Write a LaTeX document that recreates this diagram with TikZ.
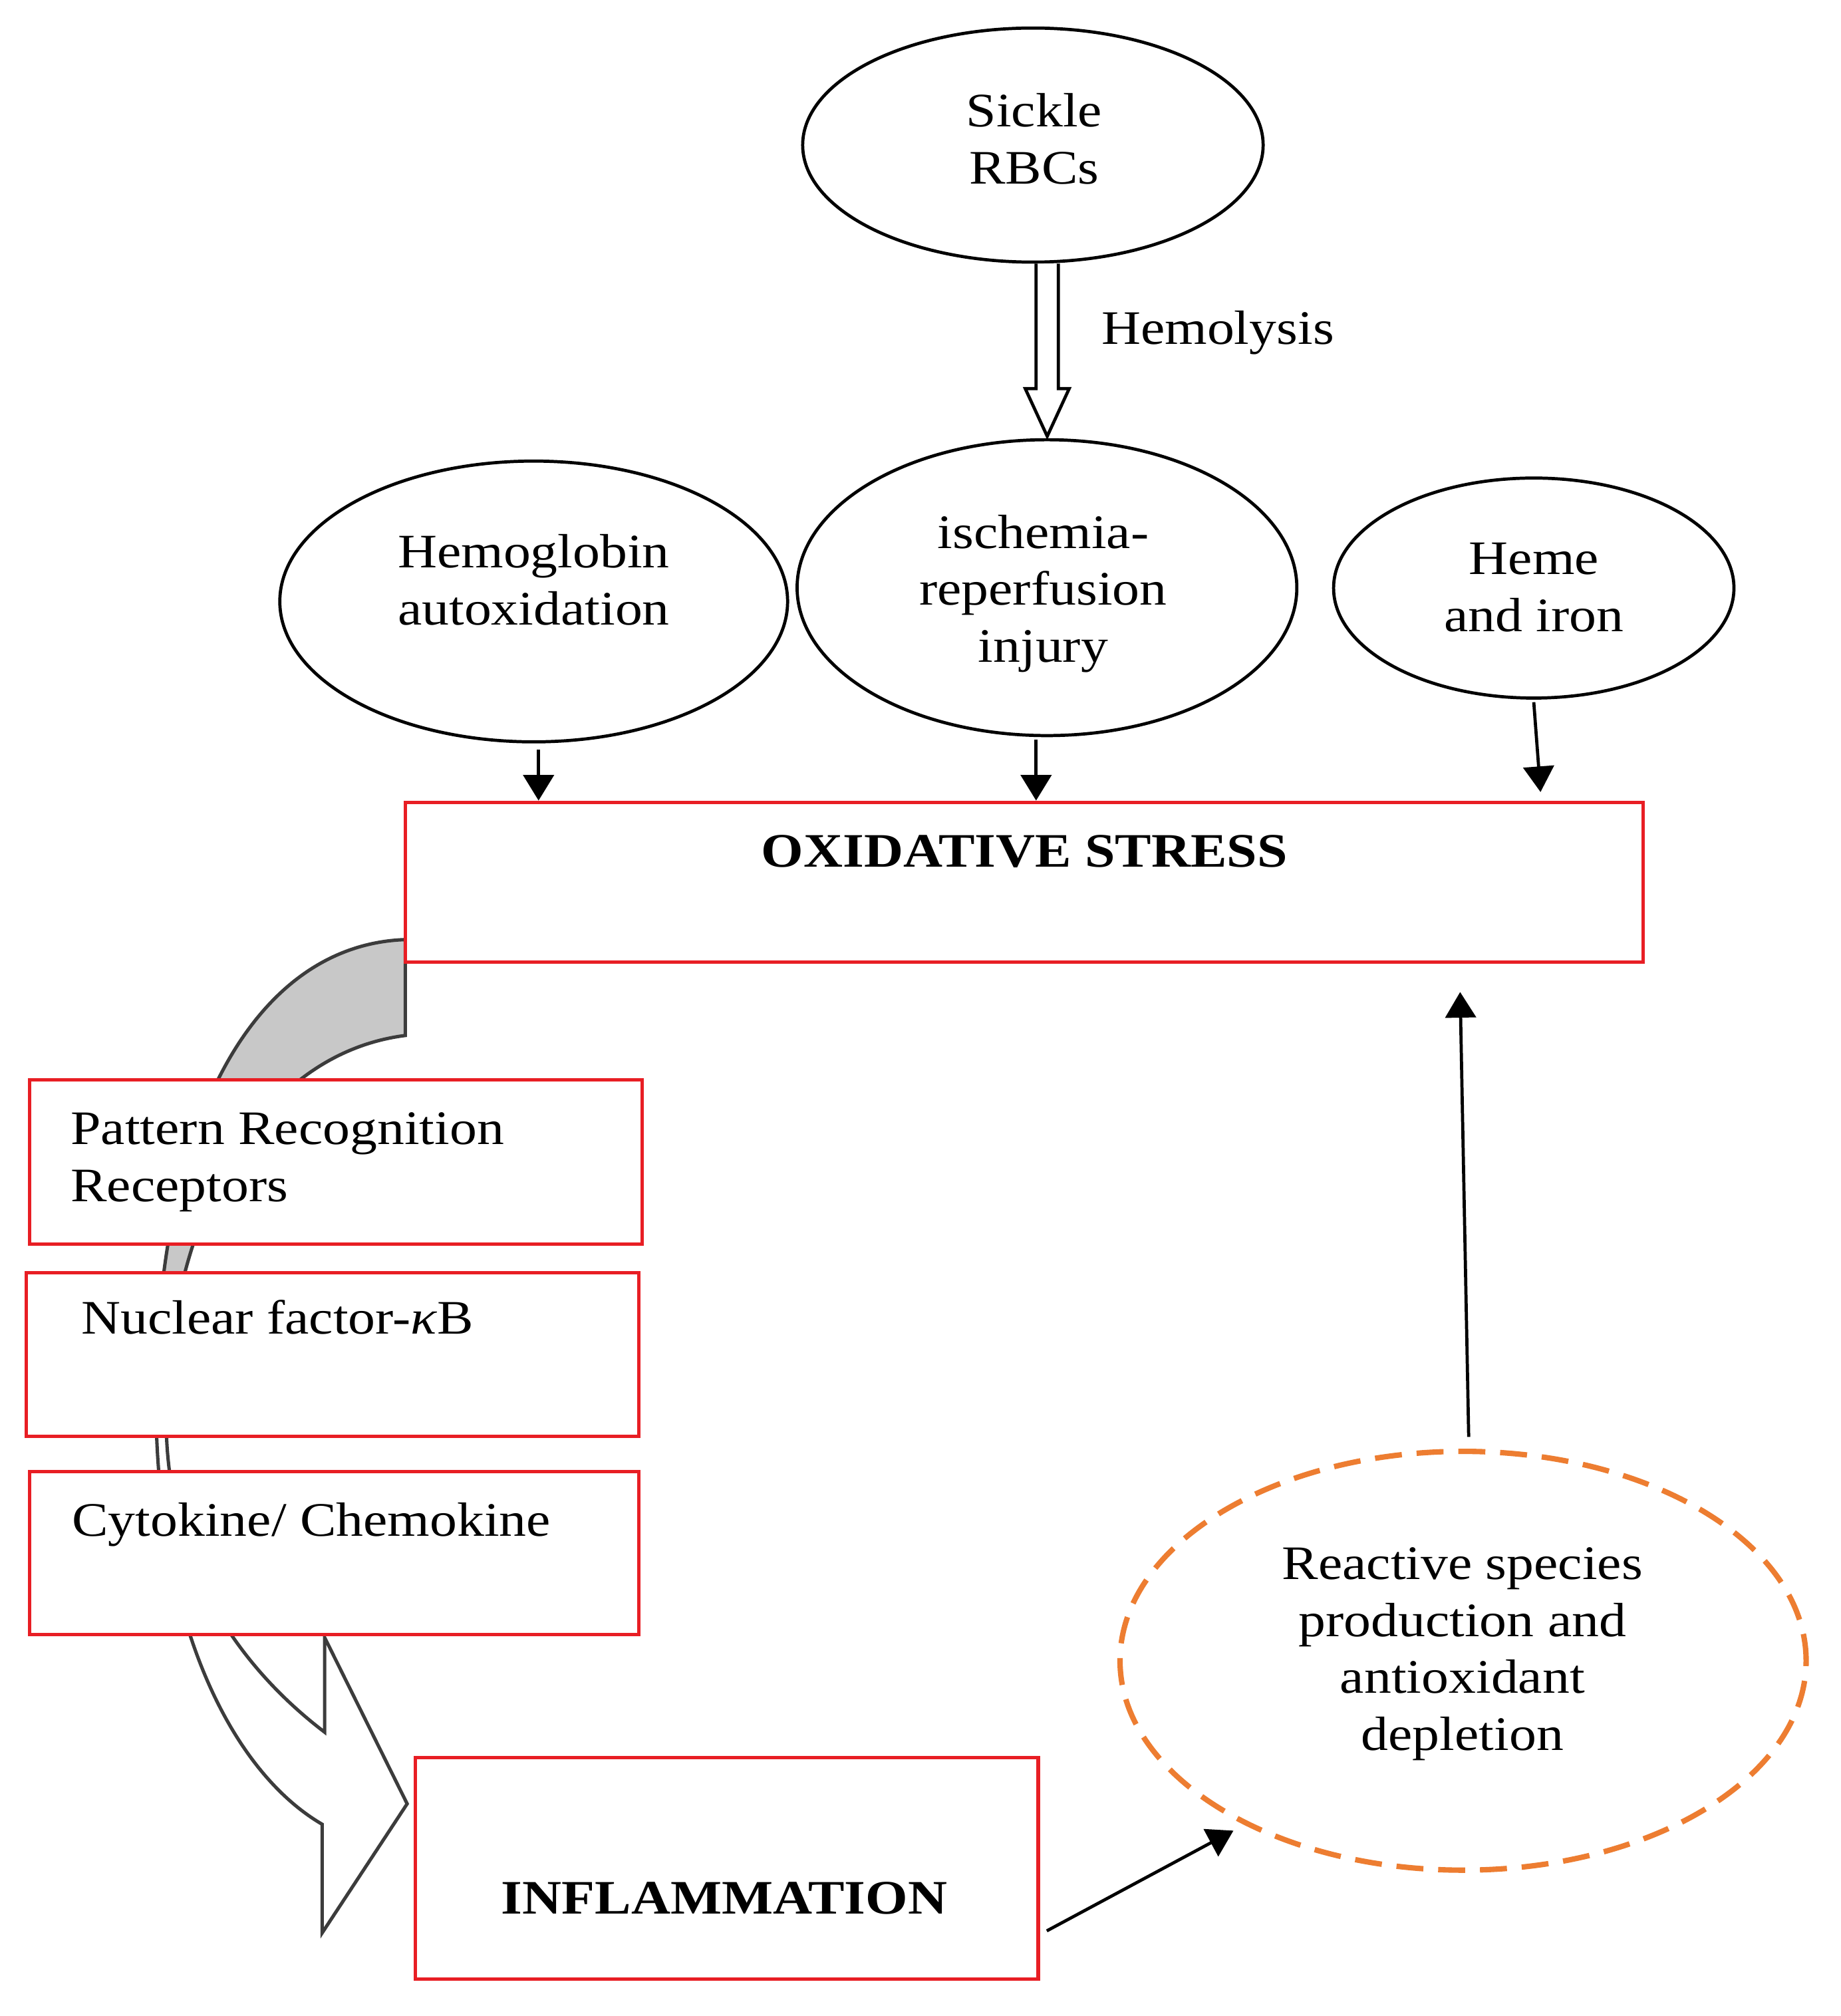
\documentclass[tikz,border=0pt]{standalone}
\usepackage{fontspec}
\setmainfont{Liberation Serif}[FakeStretch=1.13]
\usetikzlibrary{shapes.geometric,arrows.meta}
\definecolor{boxred}{RGB}{232,30,36}
\definecolor{dashorange}{RGB}{237,125,49}
\definecolor{arrowgray}{RGB}{200,200,200}
\definecolor{edgegray}{RGB}{60,60,60}
\newcommand\diafont{\fontsize{10.7pt}{12.7pt}\selectfont}
\begin{document}
\begin{tikzpicture}[x=0.01cm,y=-0.01cm,
  every node/.style={font=\diafont},
  ell/.style={draw=black, ellipse, line width=0.7pt, inner sep=0pt, fill=white},
  redbox/.style={draw=boxred, rectangle, line width=0.75pt, inner sep=0pt, fill=white},
  dashell/.style={draw=dashorange, ellipse, line width=1.2pt, dash pattern=on 6pt off 3.3pt, inner sep=0pt},
  lbl/.style={inner sep=0pt, align=center},
  arr/.style={-{Triangle[length=5.7pt,width=6.8pt]}, line width=0.7pt, black},
  hollow/.style={draw=black, fill=white, line width=0.7pt, line join=miter},
]
\useasboundingbox (0,0) rectangle (1440,1577);
\fill[white] (0,0) rectangle (1440,1577);

% curved gray arrow (drawn first, behind the boxes)
\def\grayarrowpath{(317,735) .. controls (200,739) and (125,875) .. (122,1085) .. controls (120,1265) and (180,1385) .. (252,1427) -- (252,1512) -- (318.5,1411) -- (254,1281) -- (254,1355) .. controls (191,1307) and (129,1227) .. (130,1107) .. controls (132,957) and (200,825) .. (317,810) -- cycle}
\fill[white] \grayarrowpath;
\begin{scope}
  \clip (0,700) rectangle (400,1060);
  \fill[arrowgray] \grayarrowpath;
\end{scope}
\draw[edgegray, line width=0.75pt, line join=miter] \grayarrowpath;

% ellipses
\node[ell, minimum width=3.6cm, minimum height=1.83cm] (sickle) at (808,113.5) {};
\node[lbl] (sickleT) at (809,112.6) {\strut Sickle\\RBCs\strut};

\node[ell, minimum width=3.97cm, minimum height=2.195cm] (hemo) at (417.5,470.5) {};
\node[lbl] (hemoT) at (417.5,457.3) {\strut Hemoglobin\\autoxidation\strut};

\node[ell, minimum width=3.907cm, minimum height=2.313cm] (isch) at (819,459.7) {};
\node[lbl] (ischT) at (816,464.5) {\strut ischemia-\\reperfusion\\injury\strut};

\node[ell, minimum width=3.13cm, minimum height=1.72cm] (heme) at (1199.8,460) {};
\node[lbl] (hemeT) at (1200,462.5) {\strut Heme\\and iron\strut};

% hollow arrow Sickle RBCs -> ischemia
\path (isch.north |- sickle.south) coordinate (hs);
\draw[hollow] (hs) ++(-8.5,0) -- ++(0,97.7) -- ++(-8.5,0) -- ++(17.2,37.3) -- ++(17.2,-37.3) -- ++(-8.5,0) -- ++(0,-97.7);
\node[lbl, anchor=base west] (hemolysis) at (861,269.5) {Hemolysis};

% boxes
\node[redbox, minimum width=9.678cm, minimum height=1.248cm] (ox) at (801.4,690) {};
\node[lbl, anchor=base, font=\diafont\bfseries] (oxT) at (801.4,678) {OXIDATIVE STRESS};

\node[redbox, minimum width=4.788cm, minimum height=1.285cm] (prr) at (262.6,909) {};
\node[lbl, align=left, anchor=west] (prrT) at (54.7,908.4) {\strut Pattern Recognition\\Receptors\strut};

\node[redbox, minimum width=4.788cm, minimum height=1.279cm] (nf) at (260,1059.5) {};
\node[lbl, anchor=base west] (nfT) at (63,1043.3) {Nuclear factor-\textit{κ}B};

\node[redbox, minimum width=4.762cm, minimum height=1.274cm] (cyto) at (261.3,1214.7) {};
\node[lbl, anchor=base west] (cytoT) at (55.7,1201.4) {Cytokine/ Chemokine};

\node[redbox, minimum width=4.868cm, minimum height=1.73cm] (infl) at (568.6,1461.5) {};
\node[lbl, anchor=base west, font=\diafont\bfseries] (inflT) at (391.5,1497) {INFLAMMATION};

\node[dashell, minimum width=5.364cm, minimum height=3.274cm] (react) at (1144.5,1299.1) {};
\node[lbl] (reactT) at (1144,1293.3) {\strut Reactive species\\production and\\antioxidant\\depletion\strut};

% arrows
\path (hemo.south) ++(3.8,4.7) coordinate (a1);
\draw[arr] (a1) -- (a1 |- ox.north);
\path (isch.south) ++(-8.5,1.7) coordinate (a2);
\draw[arr] (a2) -- (a2 |- ox.north);
\path (heme.south) ++(0,2) coordinate (a3);
\draw[arr] (a3) -- ++(5.3,70.3);
\path (react.north) ++(4.4,-9.2) coordinate (r0);
\draw[arr] (r0) -- ++(-6.7,-348);
\path (infl.east) ++(5.4,48.9) coordinate (i0);
\draw[arr] (i0) -- ++(146,-78.4);
\end{tikzpicture}
\end{document}
